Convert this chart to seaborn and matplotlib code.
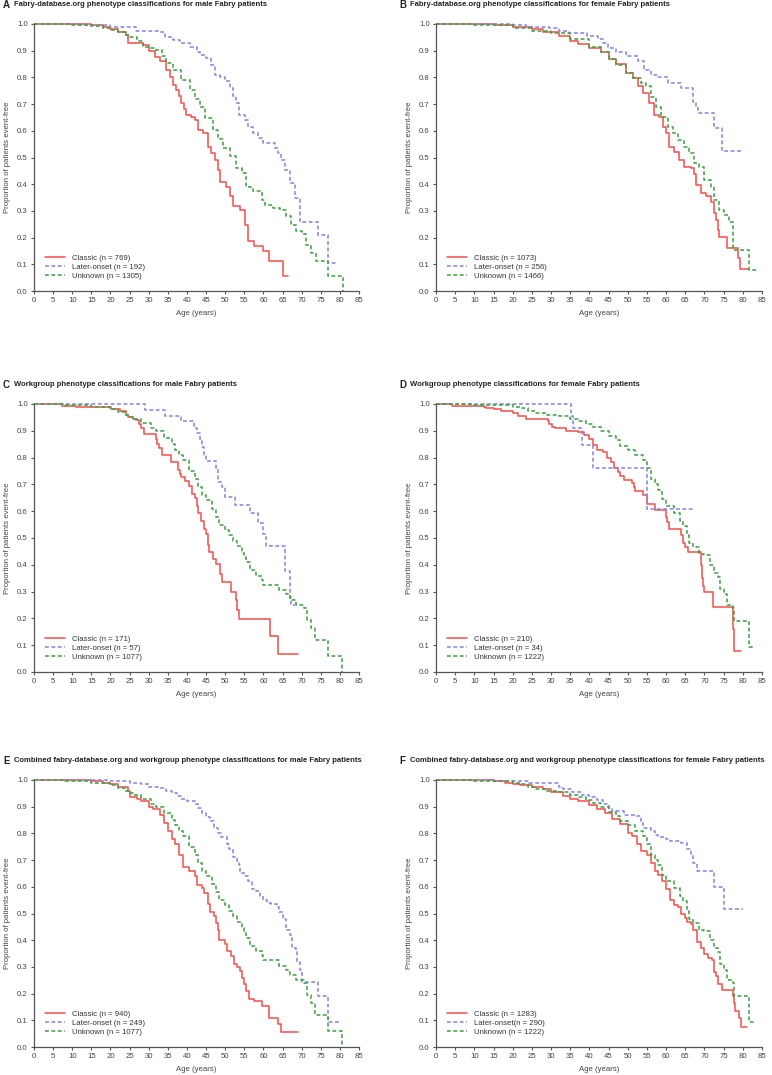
import matplotlib
matplotlib.use("Agg")
import pandas as pd
import seaborn as sns
import matplotlib.pyplot as plt

# ---- data ----
# Panel A: fabry-database.org, male
a_classic_age = [0, 15, 18, 20, 22, 24, 24.6, 28.5, 30, 31.6, 33, 34.6, 35.5, 36.4, 37.2, 38, 38.5, 39.2, 39.8, 41,
                 42, 42.9, 44.2, 45.5, 46.4, 47.3, 48.1, 48.7, 50.3, 51.2, 52, 53.8, 55.1, 56, 57.5, 59.9, 61.5, 65, 66.5]
a_classic_surv = [1.0, 0.995, 0.99, 0.98, 0.97, 0.96, 0.93, 0.92, 0.90, 0.878, 0.86, 0.828, 0.80, 0.772, 0.753, 0.73,
                  0.703, 0.68, 0.66, 0.65, 0.64, 0.603, 0.59, 0.541, 0.516, 0.491, 0.454, 0.41, 0.39, 0.354, 0.317,
                  0.304, 0.248, 0.186, 0.167, 0.148, 0.111, 0.055, 0.055]
a_later_age = [0, 12, 19.8, 24, 26.8, 32.9, 34.2, 36.4, 38.1, 40.7, 42.5, 43.3, 45.1, 46.4, 47.3, 48.6, 49.9, 51.2, 52,
               52.9, 53.6, 55.1, 56, 57.3, 58.6, 59.9, 62.9, 63.8, 64.7, 65.6, 66.9, 68.2, 69.5, 74.3, 76.9, 79.5]
a_later_surv = [1.0, 0.995, 0.99, 0.988, 0.975, 0.97, 0.953, 0.94, 0.928, 0.915, 0.897, 0.885, 0.872, 0.847, 0.81,
                0.80, 0.785, 0.76, 0.729, 0.703, 0.66, 0.641, 0.616, 0.591, 0.572, 0.554, 0.535, 0.516, 0.491, 0.454,
                0.404, 0.348, 0.26, 0.21, 0.105, 0.105]
a_unknown_age = [0, 10, 15, 18, 20, 22, 24, 25, 27, 28.5, 30, 32, 33.5, 34.6, 36.4, 38.5, 40.7, 42, 43.3, 44.6, 46.8,
                 48, 49.4, 51.2, 52.9, 54.3, 55.5, 57.3, 59.5, 60.3, 62.5, 64.3, 66, 67.3, 68.6, 70, 71.2, 72.5, 73.8,
                 76.9, 80.8]
a_unknown_surv = [1.0, 0.997, 0.993, 0.985, 0.978, 0.97, 0.96, 0.95, 0.935, 0.915, 0.91, 0.903, 0.88, 0.853, 0.828,
                  0.791, 0.753, 0.72, 0.691, 0.647, 0.603, 0.57, 0.535, 0.504, 0.46, 0.441, 0.39, 0.373, 0.342, 0.323,
                  0.31, 0.304, 0.28, 0.248, 0.223, 0.215, 0.173, 0.142, 0.111, 0.055, 0.0]

# Panel B: fabry-database.org, female
b_classic_age = [0, 15, 20, 25, 28, 32, 35, 37, 40, 43, 45, 47, 49.5, 51.3, 52.6, 53.9, 55.6, 56.9, 58.2, 59.1, 60,
                 60.8, 62.1, 63.4, 64.7, 66.5, 67.4, 67.8, 69.1, 70.4, 71.7, 72.6, 73, 73.4, 73.9, 76, 78.7, 79.3, 81.3]
b_classic_surv = [1.0, 0.995, 0.99, 0.98, 0.97, 0.955, 0.935, 0.925, 0.91, 0.895, 0.87, 0.85, 0.815, 0.797, 0.766,
                  0.741, 0.703, 0.66, 0.653, 0.616, 0.591, 0.541, 0.522, 0.491, 0.466, 0.46, 0.44, 0.398, 0.367, 0.354,
                  0.335, 0.292, 0.267, 0.229, 0.204, 0.161, 0.123, 0.082, 0.082]
b_later_age = [0, 20, 23.5, 29.5, 32.2, 34.8, 39.5, 42.2, 43.5, 44.8, 46.9, 49.5, 52.6, 54.3, 56.1, 57.8, 60.4, 63.9,
               66.9, 67.8, 68.2, 72.6, 74.7, 80]
b_later_surv = [1.0, 0.995, 0.99, 0.985, 0.975, 0.965, 0.955, 0.945, 0.93, 0.91, 0.897, 0.88, 0.86, 0.828, 0.81, 0.80,
                0.78, 0.76, 0.706, 0.69, 0.668, 0.61, 0.525, 0.525]
b_unknown_age = [0, 10, 20, 25, 30, 35, 40, 43, 45, 47, 49.5, 51.3, 53.5, 54.8, 56.1, 57.4, 58.7, 60.4, 61.7, 63,
                 64.7, 66, 67.4, 68.7, 70, 71.7, 72.6, 73.9, 75.2, 76.5, 77.4, 81.7, 83.4]
b_unknown_surv = [1.0, 0.995, 0.985, 0.975, 0.965, 0.945, 0.915, 0.895, 0.87, 0.845, 0.815, 0.797, 0.778, 0.766,
                  0.728, 0.691, 0.653, 0.616, 0.591, 0.566, 0.541, 0.516, 0.479, 0.466, 0.416, 0.39, 0.342, 0.304,
                  0.286, 0.26, 0.155, 0.08, 0.08]

# Panel C: workgroup, male
c_classic_age = [0, 7.3, 10.9, 20.2, 22.4, 24.1, 24.6, 25.9, 26.8, 27.5, 28.1, 28.7, 31.8, 32.2, 32.7, 33.5, 35.9,
                 37.7, 38.1, 38.5, 39.4, 40.5, 41.2, 42, 42.5, 42.9, 43.8, 44.4, 45.1, 45.5, 45.9, 46.8, 47.7, 48.7,
                 49.2, 51.4, 52.7, 53.1, 53.6, 61.6, 63.8, 69]
c_classic_surv = [1.0, 0.993, 0.988, 0.98, 0.975, 0.96, 0.95, 0.945, 0.94, 0.925, 0.91, 0.887, 0.87, 0.85, 0.834,
                  0.809, 0.783, 0.755, 0.74, 0.729, 0.712, 0.695, 0.665, 0.65, 0.618, 0.595, 0.564, 0.535, 0.515,
                  0.473, 0.448, 0.423, 0.402, 0.367, 0.336, 0.30, 0.27, 0.23, 0.197, 0.133, 0.068, 0.068]
c_later_age = [0, 29.1, 34.2, 38.5, 41.8, 42.6, 43.3, 43.9, 44.4, 45.1, 47.5, 48.1, 49.3, 49.9, 52.5, 56.4, 58.6,
               59.9, 60.8, 65.6, 66.9, 67.1, 68.2]
c_later_surv = [1.0, 0.978, 0.957, 0.935, 0.912, 0.89, 0.865, 0.84, 0.81, 0.787, 0.76, 0.71, 0.69, 0.654, 0.623,
                0.592, 0.555, 0.514, 0.469, 0.376, 0.28, 0.249, 0.249]
# Unknown male, n = 1077 (panels C and E)
ce_unknown_age = [0, 8, 15, 20, 22, 24, 25, 26, 28, 30.5, 32, 34, 36, 37, 38, 39, 40.5, 42, 43, 44, 45, 46.5, 47.5,
                  48.5, 50, 51, 52, 53, 54.5, 55, 55.5, 56.5, 58, 59.5, 60, 64, 66, 67, 68.5, 70.5, 71.5, 72.5, 73.5,
                  77, 80.5]
ce_unknown_surv = [1.0, 0.995, 0.99, 0.98, 0.97, 0.96, 0.95, 0.945, 0.93, 0.91, 0.90, 0.875, 0.85, 0.83, 0.81, 0.79,
                   0.75, 0.72, 0.69, 0.66, 0.64, 0.61, 0.58, 0.55, 0.53, 0.51, 0.49, 0.47, 0.445, 0.43, 0.41, 0.38,
                   0.36, 0.345, 0.325, 0.305, 0.29, 0.27, 0.25, 0.24, 0.195, 0.163, 0.12, 0.06, 0.0]

# Panel D: workgroup, female
d_classic_age = [0, 4.1, 12.5, 13, 15, 17, 20, 21.5, 23.5, 29.1, 29.5, 30.2, 31, 34, 37, 38.5, 40, 41, 42, 43.5,
                 44.5, 45.5, 46.5, 47.5, 48, 49, 51, 51.5, 52, 54, 55, 57, 60, 60.3, 60.8, 64, 64.3, 65, 65.7, 69.1,
                 69.3, 69.6, 70, 72.3, 77.4, 77.7, 79.4]
d_classic_surv = [1.0, 0.993, 0.99, 0.985, 0.98, 0.975, 0.965, 0.955, 0.945, 0.935, 0.925, 0.915, 0.91, 0.90,
                  0.895, 0.885, 0.87, 0.847, 0.83, 0.82, 0.80, 0.785, 0.76, 0.745, 0.73, 0.715, 0.705, 0.69, 0.675,
                  0.66, 0.626, 0.604, 0.58, 0.56, 0.535, 0.51, 0.483, 0.465, 0.448, 0.40, 0.35, 0.32, 0.30, 0.243,
                  0.162, 0.077, 0.077]
d_later_age = [0, 35.2, 35.8, 38, 41, 54.9, 66.9]
d_later_surv = [1.0, 0.955, 0.909, 0.847, 0.76, 0.61, 0.61]
# Unknown female, n = 1222 (panels D and F)
df_unknown_age = [0, 10, 15, 20, 22, 24, 26, 29, 32, 35, 37, 39, 41, 43, 45, 47, 48, 50, 52, 54, 55, 56, 57, 58, 59,
                  60, 62, 63.5, 64.5, 65.5, 66, 67, 68.5, 70, 71.5, 72.5, 73.5, 74, 75, 76, 77.5, 77.8, 81.7, 83]
df_unknown_surv = [1.0, 0.998, 0.995, 0.99, 0.985, 0.975, 0.965, 0.96, 0.955, 0.945, 0.935, 0.925, 0.915, 0.90,
                   0.88, 0.865, 0.845, 0.83, 0.81, 0.79, 0.76, 0.72, 0.70, 0.68, 0.645, 0.62, 0.595, 0.565, 0.545,
                   0.51, 0.48, 0.465, 0.44, 0.435, 0.40, 0.37, 0.355, 0.31, 0.29, 0.25, 0.24, 0.19, 0.095, 0.095]

# Panel E: combined, male
e_classic_age = [0, 15, 18, 20, 22, 24.5, 25, 27, 28, 30, 31, 33, 34, 35, 36, 37, 38, 39, 40.5, 42, 42.5, 44, 44.5,
                 45.5, 46, 47, 47.7, 48, 48.5, 50, 50.5, 51.5, 52.3, 53, 54, 54.5, 55, 55.5, 56.3, 57.5, 59.5, 61.5,
                 63.7, 64.5, 69]
e_classic_surv = [1.0, 0.995, 0.99, 0.985, 0.975, 0.96, 0.935, 0.93, 0.92, 0.90, 0.89, 0.869, 0.84, 0.81, 0.78,
                  0.762, 0.72, 0.675, 0.66, 0.64, 0.606, 0.595, 0.575, 0.537, 0.506, 0.49, 0.465, 0.44, 0.40, 0.385,
                  0.36, 0.34, 0.31, 0.30, 0.285, 0.26, 0.235, 0.21, 0.18, 0.171, 0.155, 0.11, 0.085, 0.055, 0.055]
e_later_age = [0, 19, 20, 25, 28, 30, 33, 34.5, 36, 37.5, 38.5, 40, 42, 43, 44, 45, 46, 47, 48, 49, 50.5, 51, 52, 53,
               53.5, 54, 55, 56, 57, 58, 59, 60, 61, 62, 63.5, 64, 65, 66, 67, 67.5, 68.5, 68.7, 69.5, 70, 74.3, 77,
               80]
e_later_surv = [1.0, 0.998, 0.995, 0.99, 0.985, 0.975, 0.97, 0.96, 0.95, 0.94, 0.93, 0.92, 0.91, 0.895, 0.875, 0.86,
                0.845, 0.82, 0.80, 0.785, 0.76, 0.74, 0.71, 0.695, 0.68, 0.65, 0.64, 0.62, 0.59, 0.585, 0.565, 0.55,
                0.54, 0.535, 0.525, 0.505, 0.48, 0.44, 0.42, 0.37, 0.36, 0.32, 0.29, 0.245, 0.19, 0.095, 0.095]

# Panel F: combined, female
f_classic_age = [0, 15, 18, 20, 22, 25, 28, 30, 33, 35, 37, 40, 42, 44, 46, 48, 50, 51, 52.5, 53.5, 55, 56, 57, 58,
                 59, 60, 61, 62, 63, 64, 65, 65.5, 66.5, 67, 68, 69, 70, 71, 72, 72.5, 73, 73.5, 74.5, 76.5, 77.5,
                 77.7, 78, 79, 79.5, 81]
f_classic_surv = [1.0, 0.995, 0.99, 0.985, 0.98, 0.975, 0.965, 0.955, 0.94, 0.93, 0.92, 0.905, 0.89, 0.875, 0.855,
                  0.835, 0.80, 0.79, 0.76, 0.735, 0.72, 0.69, 0.66, 0.645, 0.62, 0.59, 0.55, 0.53, 0.525, 0.50, 0.485,
                  0.47, 0.46, 0.44, 0.395, 0.37, 0.35, 0.335, 0.325, 0.28, 0.265, 0.235, 0.215, 0.215, 0.19, 0.165,
                  0.135, 0.11, 0.075, 0.075]
f_later_age = [0, 15, 20, 24, 32, 33, 35.5, 38, 40, 42, 43.5, 45, 46, 49, 52, 53.5, 54, 56, 57, 58, 60, 61, 64, 65.5,
               66.5, 67, 68, 72.5, 75, 80]
f_later_surv = [1.0, 0.998, 0.995, 0.99, 0.975, 0.965, 0.955, 0.945, 0.935, 0.925, 0.91, 0.895, 0.885, 0.87, 0.865,
                0.845, 0.82, 0.81, 0.795, 0.785, 0.78, 0.77, 0.765, 0.74, 0.72, 0.69, 0.66, 0.60, 0.515, 0.515]

letters = ["A", "B", "C", "D", "E", "F"]
titles = [
    "Fabry-database.org phenotype classifications for male Fabry patients",
    "Fabry-database.org phenotype classifications for female Fabry patients",
    "Workgroup phenotype classifications for male Fabry patients",
    "Workgroup phenotype classifications for female Fabry patients",
    "Combined fabry-database.org and workgroup phenotype classifications for male Fabry patients",
    "Combined fabry-database.org and workgroup phenotype classifications for female Fabry patients",
]
classic_labels = ["Classic (n = 769)", "Classic (n = 1073)", "Classic (n = 171)",
                  "Classic (n = 210)", "Classic (n = 940)", "Classic (n = 1283)"]
later_labels = ["Later-onset (n = 192)", "Later-onset (n = 256)", "Later-onset (n = 57)",
                "Later-onset (n = 34)", "Later-onset (n = 249)", "Later-onset(n = 290)"]
unknown_labels = ["Unknown (n = 1305)", "Unknown (n = 1466)", "Unknown (n = 1077)",
                  "Unknown (n = 1222)", "Unknown (n = 1077)", "Unknown (n = 1222)"]

panels = [
    [(a_classic_age, a_classic_surv), (a_later_age, a_later_surv), (a_unknown_age, a_unknown_surv)],
    [(b_classic_age, b_classic_surv), (b_later_age, b_later_surv), (b_unknown_age, b_unknown_surv)],
    [(c_classic_age, c_classic_surv), (c_later_age, c_later_surv), (ce_unknown_age, ce_unknown_surv)],
    [(d_classic_age, d_classic_surv), (d_later_age, d_later_surv), (df_unknown_age, df_unknown_surv)],
    [(e_classic_age, e_classic_surv), (e_later_age, e_later_surv), (ce_unknown_age, ce_unknown_surv)],
    [(f_classic_age, f_classic_surv), (f_later_age, f_later_surv), (df_unknown_age, df_unknown_surv)],
]

colors = ["#f25550", "#8a86e0", "#43a047"]
styles = ["-", (0, (2.4, 1.6)), (0, (2.4, 1.6))]

sns.set_style("ticks")
plt.rcParams["font.family"] = ["Liberation Sans", "DejaVu Sans"]
plt.rcParams["axes.edgecolor"] = "#555555"
plt.rcParams["xtick.color"] = "#555555"
plt.rcParams["ytick.color"] = "#555555"

W, H = 772, 1075
fig = plt.figure(figsize=(W / 100, H / 100), dpi=100)

# axes boxes in pixels: left, top(1.0), right(85), bottom(0.0)
col_x = [(34, 359), (436, 762)]
row_y = [(24, 291), (404, 672), (780, 1047)]
title_y = [5, 385, 761]
letter_x = [3, 399]

for i in range(6):
    r, c = divmod(i, 2)
    x0, x1 = col_x[c]
    y0, y1 = row_y[r]
    ax = fig.add_axes([x0 / W, 1 - y1 / H, (x1 - x0) / W, (y1 - y0) / H])

    labels = [classic_labels[i], later_labels[i], unknown_labels[i]]
    for (age, surv), lab, col, ls in zip(panels[i], labels, colors, styles):
        d = pd.DataFrame({"age": age, "surv": surv})
        sns.lineplot(data=d, x="age", y="surv", ax=ax, color=col, linestyle=ls, lw=1.15,
                     drawstyle="steps-post", estimator=None, label=lab, clip_on=False)

    ax.set_xlim(0, 85)
    ax.set_ylim(0, 1.0)
    ax.set_xticks(range(0, 86, 5))
    ax.set_yticks([k / 10 for k in range(11)])
    ax.set_yticklabels([f"{k / 10:.1f}" for k in range(11)])
    ax.tick_params(labelsize=5.6, length=2.5, width=0.8, pad=2, labelcolor="#444444")
    for s in ax.spines.values():
        s.set_linewidth(0.9)
    sns.despine(ax=ax)
    ax.set_xlabel("Age (years)", fontsize=5.6, color="#444444", labelpad=4)
    ax.set_ylabel("Proportion of patients event-free", fontsize=5.6, color="#444444", labelpad=4)

    leg = ax.legend(loc="lower left", bbox_to_anchor=(0.025, 0.03), frameon=False, fontsize=5.6,
                    handlelength=2.6, handletextpad=0.9, labelspacing=0.2, borderaxespad=0)
    for t in leg.get_texts():
        t.set_color("#333333")

    ty = 1 - title_y[r] / H
    fig.text(letter_x[c] / W, ty, letters[i], fontsize=7, fontweight="bold", va="center", color="#222222")
    fig.text((letter_x[c] + 11) / W, ty, titles[i], fontsize=5.5, fontweight="bold", va="center", color="#222222")

fig.savefig("out.png", dpi=100)
